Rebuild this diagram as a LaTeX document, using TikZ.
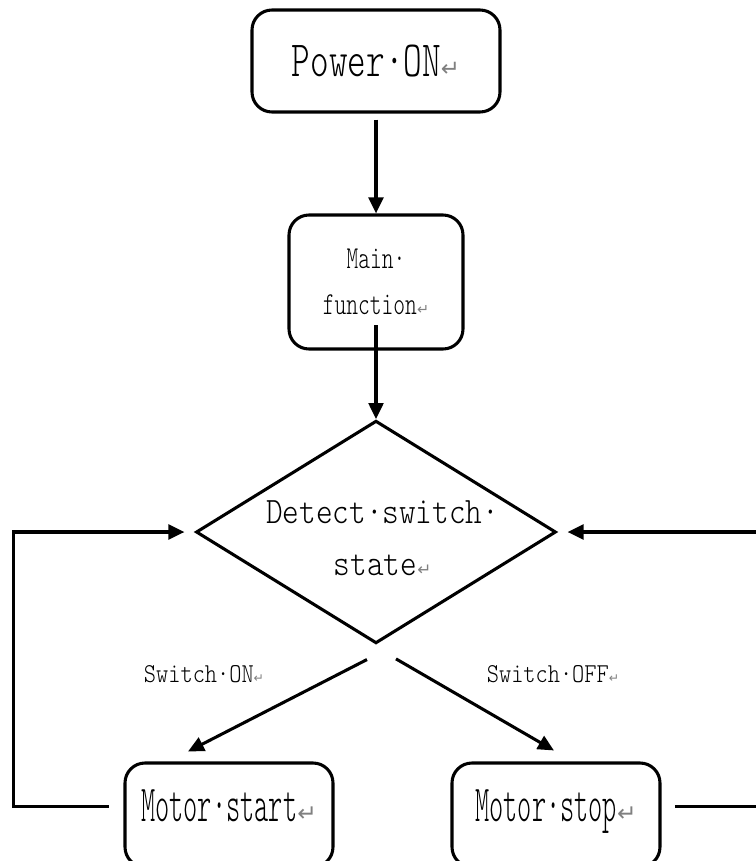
\documentclass[tikz,border=0pt]{standalone}
\usepackage{fontspec}
\usetikzlibrary{shapes.geometric,arrows.meta}
\newfontfamily\flowfont[FakeStretch=0.7]{Latin Modern Mono Light}
\newfontfamily\wideflowfont[FakeStretch=0.85]{Latin Modern Mono Light}
\newfontfamily\narrowflowfont[FakeStretch=0.52]{Latin Modern Mono Light}
\newfontfamily\markfont{DejaVu Sans}
\newcommand{\retmark}{{\markfont\color{gray}\scalebox{0.45}{↵}}}

\begin{document}
\begin{tikzpicture}[x=0.75pt,y=-0.75pt,
  box/.style={draw,line width=2.3pt,rounded corners=15pt},
  motortext/.style={font=\narrowflowfont\fontsize{39}{42}\selectfont,text height=24pt,text depth=0pt,yshift=7pt},
  flow/.style={line width=2.3pt,-{Triangle[length=12pt,width=11pt]}}]
  \useasboundingbox (0,0) rectangle (756,861);
  \node[box,minimum width=186pt,minimum height=76.5pt,font=\flowfont\fontsize{38}{40}\selectfont] (power) at (376,61) {Power·ON\retmark};
  \node[box,minimum width=130.5pt,minimum height=100.5pt,align=center,font=\flowfont\fontsize{24}{34.5}\selectfont] (main) at (376,282) {Main·\\function\retmark};
  \node[draw,diamond,line width=2.3pt,minimum width=270pt,minimum height=167pt,inner sep=0pt,
    label={[align=center,font=\wideflowfont\fontsize{28}{39}\selectfont,xshift=5pt,yshift=-5pt]center:Detect·switch·\\state\retmark}] (detect) at (376,532) {};
  \node[box,minimum width=156pt,minimum height=78pt,label={[motortext]center:Motor·start\retmark}] (start) at (229,815) {};
  \node[box,minimum width=156pt,minimum height=78pt,label={[motortext]center:Motor·stop\retmark}] (stop) at (556,815) {};
  \node[font=\wideflowfont\fontsize{20.5}{24}\selectfont] (onlabel) at (204,674) {Switch·ON\retmark};
  \node[font=\wideflowfont\fontsize{20.5}{24}\selectfont] (offlabel) at (553,674) {Switch·OFF\retmark};
  \draw[flow] ([yshift=-4.5pt]power.south) -- (main.north);
  \draw[flow] ([yshift=19pt]main.south) -- (detect.north);
  \draw[flow] ([shift={(-6.75pt,-11pt)}]detect.south) -- ([shift={(-30.75pt,7.5pt)}]start.north);
  \draw[flow] ([shift={(15pt,-10.5pt)}]detect.south) -- ([shift={(-1.5pt,8.25pt)}]stop.north);
  \draw[flow] ([xshift=-11pt,yshift=6.5pt]start.west) -- ++(-95,0) |- ([xshift=-7.5pt]detect.west);
  \draw[flow] ([xshift=10pt,yshift=6.5pt]stop.east) -- ++(85,0) |- ([xshift=7.5pt]detect.east);
\end{tikzpicture}
\end{document}
